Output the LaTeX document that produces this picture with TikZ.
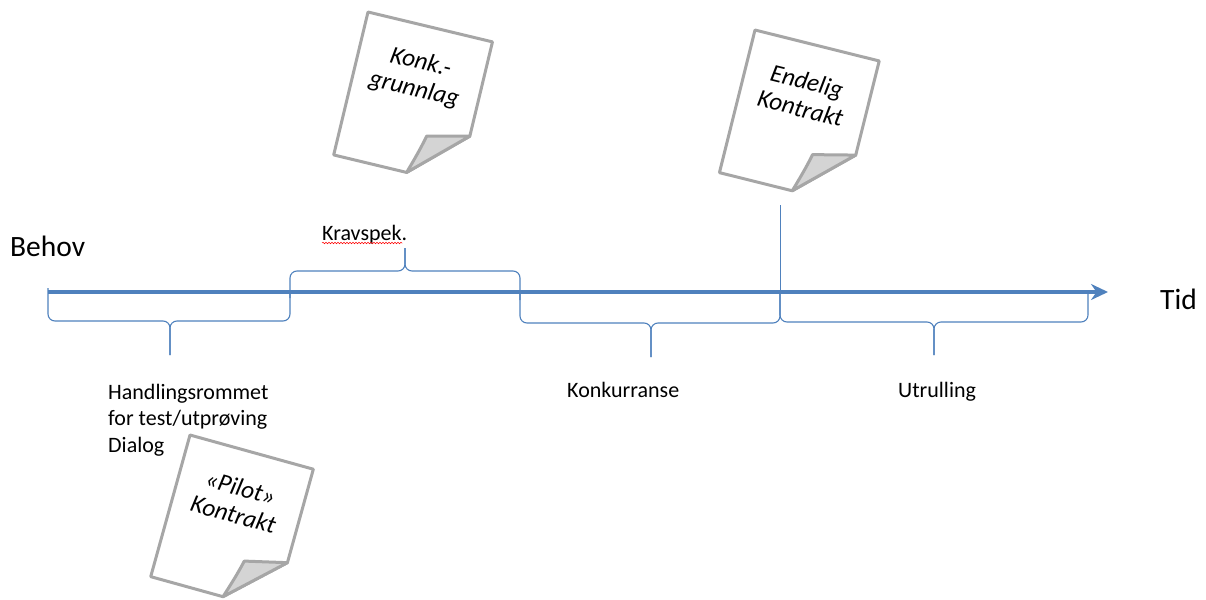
\documentclass[tikz,border=0pt]{standalone}
\usepackage{fontspec}
\setmainfont{Carlito}
\usetikzlibrary{arrows.meta,decorations.pathmorphing}
\definecolor{aksblaa}{HTML}{4F81BD}
\definecolor{arkgraa}{HTML}{A6A6A6}
\definecolor{brettgraa}{HTML}{D4D4D4}
\tikzset{
  akse/.style={line width=4pt, draw=aksblaa, -{Stealth[length=17pt,width=16pt]}},
  klamme/.style={line width=1.1pt, draw=aksblaa, rounded corners=7pt},
  etikett/.style={inner sep=0pt, font=\fontsize{22}{26.5}\selectfont, align=left},
  stor/.style={inner sep=0pt, font=\fontsize{29.5}{34}\selectfont},
  arkkant/.style={line width=3pt, draw=arkgraa, line join=round},
  arktekst/.style={inner sep=0pt, align=center, transform shape,
    font=\itshape\fontsize{25}{27.5}\selectfont},
  ark/.pic={
    \filldraw[arkkant, fill=white] (0,0) -- (128,0) -- (128,97) -- (75,147) -- (0,147) -- cycle;
    \filldraw[arkkant, fill=brettgraa] (128,97) -- (86,107) .. controls (83,121) and (79,134) .. (75,147) -- cycle;
    \node[arktekst] at (63,51) {#1};
  }
}
\begin{document}
\begin{tikzpicture}[x=1pt,y=-1pt]
  \useasboundingbox (0,0) rectangle (1206,599);
  % tidslinje
  \coordinate (a0) at (48,292);
  \coordinate (a1) at (290,292);
  \coordinate (a2) at (520,292);
  \coordinate (a3) at (780,292);
  \coordinate (a4) at (1088,292);
  \coordinate (pil) at (1108,292);
  \draw[akse] (a0) -- (pil);
  \node[stor, anchor=west] (behov) at (10,246) {Behov};
  \node[stor, anchor=west] (tid) at (1160,299) {Tid};
  % klammer
  \coordinate (m1) at (170,321);
  \coordinate (s1) at (170,355);
  \coordinate (m2) at (405,271);
  \coordinate (s2) at (405,248);
  \coordinate (m3) at (651,323);
  \coordinate (s3) at (651,357);
  \coordinate (m4) at (934,322);
  \coordinate (s4) at (934,355);
  \begin{scope}[klamme]
    \draw ([yshift=4pt]a0) |- (m1) -- (s1);
    \draw (a1) |- (m1) -- (s1);
    \draw ([yshift=-6pt]a1) |- (m2) -- (s2);
    \draw ([yshift=-8pt]a2) |- (m2) -- (s2);
    \draw (a2) |- (m3) -- (s3);
    \draw (a3) |- (m3) -- (s3);
    \draw (a3) |- (m4) -- (s4);
    \draw (a4) |- (m4) -- (s4);
  \end{scope}
  % tekster
  \node[etikett, anchor=base west] (krav) at (322,240) {Kravspek.};
  \draw[red, line width=0.5pt, decorate, decoration={snake, amplitude=0.8pt, segment length=3pt}]
    ([yshift=-3pt]krav.base west) -- ([yshift=-3pt,xshift=-5pt]krav.base east);
  \node[etikett, anchor=base west] (handling) at (108,452) {Handlingsrommet\\for test/utprøving\\Dialog};
  \node[etikett, anchor=base west] (konk) at (567,397) {Konkurranse};
  \node[etikett, anchor=base west] (utr) at (898,397) {Utrulling};
  % dokumenter
  \pic[rotate=-13.5] (grunnlag) at (368,12) {ark={Konk.-\\grunnlag}};
  \pic[rotate=-14] (endelig) at (755,30) {ark={Endelig\\Kontrakt}};
  \pic[rotate=-15.5] (pilot) at (190,435) {ark={«Pilot»\\Kontrakt}};
  \coordinate (ende) at (780,205);
  \draw[line width=1pt, aksblaa] (ende) -- (a3);
\end{tikzpicture}
\end{document}
